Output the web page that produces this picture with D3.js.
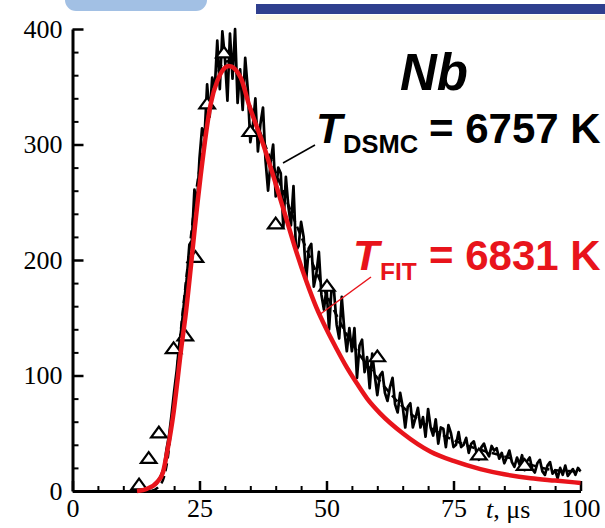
<!DOCTYPE html>
<html>
<head>
<meta charset="utf-8">
<script src="https://cdn.jsdelivr.net/npm/d3@7"></script>
<style>
  html, body { margin: 0; padding: 0; background: #fff; }
  svg { display: block; }
</style>
</head>
<body>
<svg id="chart" width="605" height="528"></svg>
<script>
// Axis ticks
const xTicks = [0, 25, 50, 75, 100];
const yTicks = [0, 100, 200, 300, 400];
const xMinor = [5, 10, 15, 20, 30, 35, 40, 45, 55, 60, 65, 70, 80, 85, 90, 95];
const yMinor = [20, 40, 60, 80, 120, 140, 160, 180, 220, 240, 260, 280, 320, 340, 360, 380];

// Measured signal (triangles): time in microseconds, counts
const expTime   = [13.1, 15.0, 17.0, 19.9, 22.2, 24.2, 26.5, 29.8, 35.0, 40.0, 50.1, 60.0, 80.0, 89.0];
const expCounts = [6, 29, 51, 124, 135, 203, 336, 380, 312, 232, 178, 117, 32, 23];

// Fitted time-of-flight curve (red)
const fitTime   = [12.7, 14.7, 16.7, 17.8, 18.6, 19.9, 20.7, 21.3, 22.2, 24.5, 25.2, 27.2, 28.5, 30.8, 33.1, 34.7, 37.7, 40, 42, 44, 46, 48, 50, 52, 54, 56, 58, 60.6, 65, 70.5, 75, 80.3, 85, 90.2, 95, 100];
const fitCounts = [0, 2, 8, 16, 33, 68, 97, 120, 150, 245, 272, 335, 355, 368, 358, 335, 298, 266, 237, 208, 182, 159, 140, 123, 107, 93, 80, 67, 50, 34, 26, 19, 14.5, 11, 9, 7];

// Smoothed DSMC profile (dashed)
const smoothTime   = [15.5, 17, 18, 18.8, 19.5, 20.3, 21.3, 22.3, 23.3, 24.3, 25.5, 26.5, 27.5, 28.5, 29.5, 30.5, 31.5, 33, 35, 37, 40, 43, 46, 50, 55, 60, 65, 70, 75, 80, 85, 90, 95, 100];
const smoothCounts = [0, 4, 12, 30, 58, 92, 138, 180, 220, 258, 292, 320, 343, 360, 370, 372, 368, 356, 333, 310, 276, 242, 210, 170, 128, 98, 73, 56, 44, 36, 30, 23, 18, 17];

// Raw DSMC signal (noisy black line)
const dsmcTime = [
  13, 13.5, 14, 14.5, 15, 15.5, 16, 16.5, 17, 17.5,
  18, 18.5, 19, 19.5, 20, 20.5, 21, 21.5, 22, 22.5,
  23, 23.5, 24, 24.5, 25, 25.5, 26, 26.5, 27, 27.5,
  28, 28.5, 29, 29.5, 30, 30.5, 31, 31.5, 32, 32.5,
  33, 33.5, 34, 34.5, 35, 35.5, 36, 36.5, 37, 37.5,
  38, 38.5, 39, 39.5, 40, 40.5, 41, 41.5, 42, 42.5,
  43, 43.5, 44, 44.5, 45, 45.5, 46, 46.5, 47, 47.5,
  48, 48.5, 49, 49.5, 50, 50.5, 51, 51.5, 52, 52.5,
  53, 53.5, 54, 54.5, 55, 55.5, 56, 56.5, 57, 57.5,
  58, 58.5, 59, 59.5, 60, 60.5, 61, 61.5, 62, 62.5,
  63, 63.5, 64, 64.5, 65, 65.5, 66, 66.5, 67, 67.5,
  68, 68.5, 69, 69.5, 70, 70.5, 71, 71.5, 72, 72.5,
  73, 73.5, 74, 74.5, 75, 75.5, 76, 76.5, 77, 77.5,
  78, 78.5, 79, 79.5, 80, 80.5, 81, 81.5, 82, 82.5,
  83, 83.5, 84, 84.5, 85, 85.5, 86, 86.5, 87, 87.5,
  88, 88.5, 89, 89.5, 90, 90.5, 91, 91.5, 92, 92.5,
  93, 93.5, 94, 94.5, 95, 95.5, 96, 96.5, 97, 97.5,
  98, 98.5, 99, 99.5, 100
];
const dsmcCounts = [
  0, 0, 1, 0, 2, 3, 5, 6, 10, 14,
  20, 36, 48, 66, 86, 104, 126, 143, 165, 184,
  213, 217, 261, 246, 288, 314, 307, 352, 324, 358,
  348, 390, 348, 398, 375, 338, 396, 357, 400, 336,
  365, 330, 375, 348, 302, 316, 340, 294, 318, 332,
  286, 260, 285, 300, 255, 280, 275, 228, 272, 246,
  230, 264, 208, 212, 233, 220, 183, 210, 214, 177,
  188, 207, 170, 157, 176, 140, 176, 172, 144, 132,
  168, 140, 121, 141, 121, 141, 98, 126, 131, 103,
  116, 89, 119, 100, 83, 100, 103, 85, 78, 90,
  98, 75, 68, 85, 73, 55, 73, 76, 55, 63,
  72, 55, 64, 47, 71, 55, 48, 62, 41, 55,
  54, 38, 57, 50, 38, 40, 51, 38, 40, 46,
  33, 41, 43, 34, 27, 38, 41, 34, 30, 39,
  35, 37, 28, 33, 24, 29, 35, 25, 21, 29,
  23, 31, 18, 26, 29, 19, 16, 24, 27, 17,
  14, 22, 25, 15, 18, 11, 20, 14, 22, 13,
  16, 19, 14, 20, 17
];

const RED = "#e8141b";
const svg = d3.select("#chart");

// Slide header decoration
svg.append("rect").attr("x", 65).attr("y", -16).attr("width", 142).attr("height", 27)
  .attr("rx", 11).attr("fill", "#a2c0e4");
svg.append("rect").attr("x", 256).attr("y", 4).attr("width", 349).attr("height", 10)
  .attr("fill", "#2f3f8e");
svg.append("rect").attr("x", 256).attr("y", 15).attr("width", 349).attr("height", 5)
  .attr("fill", "#fdf9ea");

const x = d3.scaleLinear().domain([0, 100]).range([72.5, 580.5]);
const y = d3.scaleLinear().domain([0, 400]).range([491, 29]);

// Minor ticks (inward)
svg.append("g").attr("transform", `translate(0,${y(0)})`)
  .call(d3.axisBottom(x).tickValues(xMinor).tickSize(-5).tickFormat(""))
  .call(g => g.select(".domain").remove())
  .call(g => g.selectAll("line").attr("stroke", "#000").attr("stroke-width", 2));
svg.append("g").attr("transform", `translate(${x(0)},0)`)
  .call(d3.axisLeft(y).tickValues(yMinor).tickSize(-6).tickFormat(""))
  .call(g => g.select(".domain").remove())
  .call(g => g.selectAll("line").attr("stroke", "#000").attr("stroke-width", 2));

// Major ticks and labels
const serif = "'Liberation Serif', 'Times New Roman', serif";
svg.append("g").attr("transform", `translate(0,${y(0)})`)
  .call(d3.axisBottom(x).tickValues(xTicks).tickSize(-10).tickSizeOuter(0).tickPadding(8))
  .call(g => g.select(".domain").attr("stroke", "#000").attr("stroke-width", 3))
  .call(g => g.selectAll("line").attr("stroke", "#000").attr("stroke-width", 2.5))
  .call(g => g.selectAll("text").attr("font-family", serif).attr("font-size", 26).attr("fill", "#000"));
svg.append("g").attr("transform", `translate(${x(0)},0)`)
  .call(d3.axisLeft(y).tickValues(yTicks).tickSize(-11).tickSizeOuter(0).tickPadding(10))
  .call(g => g.select(".domain").attr("stroke", "#000").attr("stroke-width", 3))
  .call(g => g.selectAll("line").attr("stroke", "#000").attr("stroke-width", 2.5))
  .call(g => g.selectAll("text").attr("font-family", serif).attr("font-size", 26).attr("fill", "#000"));

// Axis title
const xt = svg.append("text").attr("x", 486).attr("y", 518)
  .attr("font-family", serif).attr("font-size", 26).attr("fill", "#000");
xt.append("tspan").attr("font-style", "italic").text("t");
xt.append("tspan").text(", \u03bcs");

// Curves
const line = (ts, vs, curve) => d3.line()
  .x((d, i) => x(ts[i])).y((d, i) => y(vs[i])).curve(curve)(ts);

svg.append("path").attr("d", line(smoothTime, smoothCounts, d3.curveMonotoneX))
  .attr("fill", "none").attr("stroke", "#000").attr("stroke-width", 2.5)
  .attr("stroke-dasharray", "8,5");

svg.append("path").attr("d", line(dsmcTime, dsmcCounts, d3.curveLinear))
  .attr("fill", "none").attr("stroke", "#000").attr("stroke-width", 2.7)
  .attr("stroke-linejoin", "round");

// Flat open triangles for the measured points
const flatTriangle = {
  draw(ctx, size) {
    const w = Math.sqrt(size) * 1.45, h = Math.sqrt(size) * 1.0;
    ctx.moveTo(0, -h / 2);
    ctx.lineTo(w / 2, h / 2);
    ctx.lineTo(-w / 2, h / 2);
    ctx.closePath();
  }
};
svg.append("g").selectAll("path").data(expTime).join("path")
  .attr("transform", (d, i) => `translate(${x(expTime[i])},${y(expCounts[i])})`)
  .attr("d", d3.symbol().type(flatTriangle).size(115))
  .attr("fill", "#fff").attr("stroke", "#000").attr("stroke-width", 2.2)
  .attr("stroke-linejoin", "miter");

svg.append("path").attr("d", line(fitTime, fitCounts, d3.curveMonotoneX))
  .attr("fill", "none").attr("stroke", RED).attr("stroke-width", 4.5)
  .attr("stroke-linecap", "butt");

// Annotations
const sans = "'Liberation Sans', Arial, sans-serif";
svg.append("line").attr("x1", 283).attr("y1", 163).attr("x2", 315).attr("y2", 145)
  .attr("stroke", "#000").attr("stroke-width", 1.5);
svg.append("line").attr("x1", 319).attr("y1", 315).attr("x2", 371).attr("y2", 277)
  .attr("stroke", RED).attr("stroke-width", 1.5);

svg.append("text").attr("x", 400).attr("y", 90)
  .attr("font-family", sans).attr("font-weight", "bold").attr("font-style", "italic")
  .attr("font-size", 51).attr("fill", "#000").text("Nb");

function label(tx, ty, sub, subX, subY, subSize, rest, color) {
  const g = svg.append("g").attr("font-family", sans).attr("font-weight", "bold").attr("fill", color);
  g.append("text").attr("x", tx).attr("y", ty).attr("font-style", "italic")
    .attr("font-size", 43).text("T");
  g.append("text").attr("x", subX).attr("y", subY).attr("font-size", subSize).text(sub);
  g.append("text").attr("x", 429).attr("y", ty).attr("font-size", 42).text(rest);
}
label(316, 143, "DSMC", 343, 153, 25.5, "= 6757 K", "#000");
label(353, 270, "FIT", 380, 280, 24.5, "= 6831 K", RED);
</script>
</body>
</html>
